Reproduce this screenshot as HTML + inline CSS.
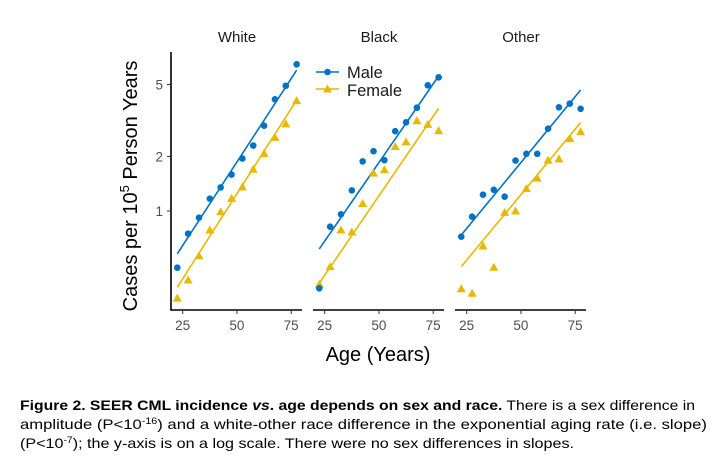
<!DOCTYPE html>
<html><head><meta charset="utf-8"><style>
html,body{margin:0;padding:0;background:#fff;}
svg{display:block;font-family:"Liberation Sans",sans-serif;}
</style></head><body>
<svg id="chart" width="720" height="468" viewBox="0 0 720 468"></svg>
<script>
const ages=[22.5,27.5,32.5,37.5,42.5,47.5,52.5,57.5,62.5,67.5,72.5,77.5];
const panels=["White","Black","Other"];
const maleWhite=[0.486,0.75,0.918,1.17,1.35,1.59,1.95,2.30,2.96,4.14,4.92,6.46];
const femaleWhite=[0.33,0.416,0.566,0.785,0.99,1.175,1.36,1.70,2.08,2.55,3.03,4.07];
const maleBlack=[0.374,0.819,0.959,1.30,1.88,2.14,1.91,2.76,3.09,3.72,4.95,5.48];
const femaleBlack=[0.394,0.493,0.785,0.766,1.10,1.62,1.69,2.27,2.41,3.15,3.01,2.78];
const maleOther=[0.721,0.93,1.23,1.31,1.20,1.90,2.07,2.07,2.85,3.74,3.92,3.67];
const femaleOther=[0.372,0.351,0.641,0.489,0.983,1.0,1.33,1.52,1.91,1.94,2.51,2.74];
const fitAges=[22.5,77.5];
const maleFit=[[0.58,6.0],[0.617,5.57],[0.737,4.66]];
const femaleFit=[[0.379,4.1],[0.399,3.69],[0.493,3.08]];
const xTicks=[25,50,75];
const yTicks=[1,2,5];
const BLUE="#0072C6",GOLD="#E9B800";
const NS="http://www.w3.org/2000/svg";
const svg=document.getElementById('chart');
function mk(tag,attrs,parent){const e=document.createElementNS(NS,tag);for(const k in attrs)e.setAttribute(k,attrs[k]);(parent||svg).appendChild(e);return e;}
const panelLeft=[171,313,455];
function xs(p,a){return panelLeft[p]+11.7+(a-25)*2.17;}
function ys(v){return 211-Math.log10(v)*181;}
const maleData=[maleWhite,maleBlack,maleOther];
const femaleData=[femaleWhite,femaleBlack,femaleOther];
for(let p=0;p<3;p++){
  const g=mk('g',{});
  
  
  const t=mk('text',{x:panelLeft[p]+66,y:42,'text-anchor':'middle','font-size':15,fill:'#1a1a1a'},g);
  t.textContent=panels[p];
  
  
  const xa=mk('line',{x1:panelLeft[p],x2:panelLeft[p]+131,y1:310,y2:310,stroke:'#000','stroke-width':1.6},g);
  
  
  xTicks.forEach(v=>{
    mk('line',{x1:xs(p,v),x2:xs(p,v),y1:310,y2:314,stroke:'#333','stroke-width':1},g);
    const tl=mk('text',{x:xs(p,v),y:330,'text-anchor':'middle','font-size':13.5,fill:'#4d4d4d'},g);
    tl.textContent=v;
    
    
  });
  // fit lines
  const ml=mk('line',{x1:xs(p,fitAges[0]),x2:xs(p,fitAges[1]),y1:ys(maleFit[p][0]),y2:ys(maleFit[p][1]),stroke:BLUE,'stroke-width':1.6},g);
  
  
  const fl=mk('line',{x1:xs(p,fitAges[0]),x2:xs(p,fitAges[1]),y1:ys(femaleFit[p][0]),y2:ys(femaleFit[p][1]),stroke:GOLD,'stroke-width':1.6},g);
  
  
  ages.forEach((a,i)=>{
    const x=xs(p,a),y=ys(femaleData[p][i]);
    const tr=mk('polygon',{points:`${x},${y-4.5} ${x-4.5},${y+3.5} ${x+4.5},${y+3.5}`,fill:GOLD},g);
    
    
  });
  ages.forEach((a,i)=>{
    const c=mk('circle',{cx:xs(p,a),cy:ys(maleData[p][i]),r:3.3,fill:BLUE},g);
    
    
  });
}
// y axis
const ya=mk('line',{x1:171,x2:171,y1:52,y2:310.8,stroke:'#000','stroke-width':1.6});


yTicks.forEach(v=>{
  mk('line',{x1:167,x2:171,y1:ys(v),y2:ys(v),stroke:'#333','stroke-width':1});
  const tl=mk('text',{x:163,y:ys(v)+5,'text-anchor':'end','font-size':13.5,fill:'#4d4d4d'});
  tl.textContent=v;
  
  
});
// axis titles
const yt=mk('text',{x:0,y:0,'text-anchor':'middle','font-size':20,fill:'#000',transform:'translate(137,186) rotate(-90)'});
yt.innerHTML='Cases per 10<tspan dy="-8" font-size="13">5</tspan><tspan dy="8"> Person Years</tspan>';


const xt=mk('text',{x:378,y:361,'text-anchor':'middle','font-size':20,fill:'#000'});
xt.textContent='Age (Years)';


// legend
const lg=mk('g',{});


mk('line',{x1:316,x2:339,y1:72,y2:72,stroke:BLUE,'stroke-width':1.6},lg);
mk('circle',{cx:327.5,cy:72,r:3.3,fill:BLUE},lg);
mk('line',{x1:316,x2:339,y1:89,y2:89,stroke:GOLD,'stroke-width':1.6},lg);
mk('polygon',{points:'327.5,84.5 323,92.5 332,92.5',fill:GOLD},lg);
const l1=mk('text',{x:347,y:78,'font-size':16.5,fill:'#1a1a1a'},lg);l1.textContent='Male';


const l2=mk('text',{x:347,y:96,'font-size':16.5,fill:'#1a1a1a'},lg);l2.textContent='Female';


// caption
const cap=mk('g',{'font-size':14,fill:'#000'});


const c1=mk('text',{x:20,y:410,textLength:675,lengthAdjust:'spacingAndGlyphs'},cap);
c1.innerHTML='<tspan font-weight="bold">Figure 2.  SEER CML incidence <tspan font-style="italic">vs</tspan>. age depends on sex and race.</tspan> There is a sex difference in';
const c2=mk('text',{x:20,y:429,textLength:687,lengthAdjust:'spacingAndGlyphs'},cap);
c2.innerHTML='amplitude (P&lt;10<tspan dy="-5" font-size="9">-16</tspan><tspan dy="5">) and a white-other race difference in the exponential aging rate (i.e. slope)</tspan>';
const c3=mk('text',{x:20,y:448,textLength:554,lengthAdjust:'spacingAndGlyphs'},cap);
c3.innerHTML='(P&lt;10<tspan dy="-5" font-size="9">-7</tspan><tspan dy="5">); the y-axis is on a log scale. There were no sex differences in slopes.</tspan>';
</script>
</body></html>
